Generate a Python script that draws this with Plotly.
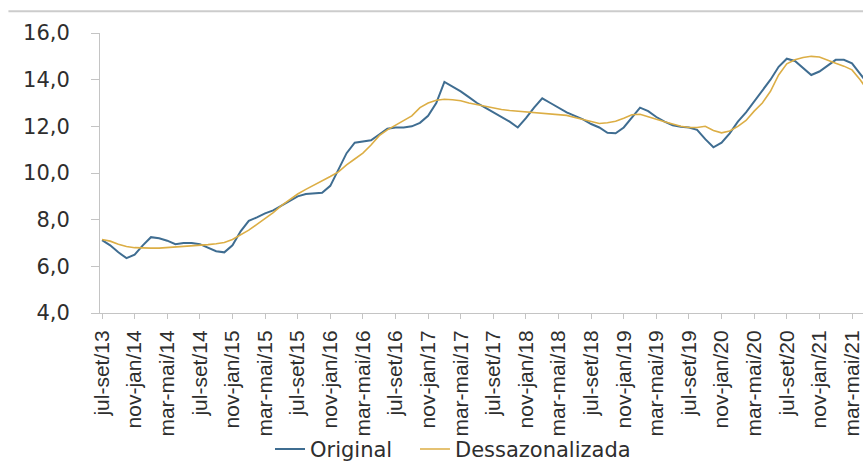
import plotly.graph_objects as go

# Rolling-quarter periods (trimestre móvel), jul-set/13 to mai-jul/21
periods = [
    "jul-set/13", "ago-out/13", "set-nov/13", "out-dez/13",
    "nov-jan/14", "dez-fev/14", "jan-mar/14", "fev-abr/14", "mar-mai/14", "abr-jun/14",
    "mai-jul/14", "jun-ago/14", "jul-set/14", "ago-out/14", "set-nov/14", "out-dez/14",
    "nov-jan/15", "dez-fev/15", "jan-mar/15", "fev-abr/15", "mar-mai/15", "abr-jun/15",
    "mai-jul/15", "jun-ago/15", "jul-set/15", "ago-out/15", "set-nov/15", "out-dez/15",
    "nov-jan/16", "dez-fev/16", "jan-mar/16", "fev-abr/16", "mar-mai/16", "abr-jun/16",
    "mai-jul/16", "jun-ago/16", "jul-set/16", "ago-out/16", "set-nov/16", "out-dez/16",
    "nov-jan/17", "dez-fev/17", "jan-mar/17", "fev-abr/17", "mar-mai/17", "abr-jun/17",
    "mai-jul/17", "jun-ago/17", "jul-set/17", "ago-out/17", "set-nov/17", "out-dez/17",
    "nov-jan/18", "dez-fev/18", "jan-mar/18", "fev-abr/18", "mar-mai/18", "abr-jun/18",
    "mai-jul/18", "jun-ago/18", "jul-set/18", "ago-out/18", "set-nov/18", "out-dez/18",
    "nov-jan/19", "dez-fev/19", "jan-mar/19", "fev-abr/19", "mar-mai/19", "abr-jun/19",
    "mai-jul/19", "jun-ago/19", "jul-set/19", "ago-out/19", "set-nov/19", "out-dez/19",
    "nov-jan/20", "dez-fev/20", "jan-mar/20", "fev-abr/20", "mar-mai/20", "abr-jun/20",
    "mai-jul/20", "jun-ago/20", "jul-set/20", "ago-out/20", "set-nov/20", "out-dez/20",
    "nov-jan/21", "dez-fev/21", "jan-mar/21", "fev-abr/21", "mar-mai/21", "abr-jun/21",
    "mai-jul/21",
]

# Unemployment rate (%), original series
original = [
    7.12, 6.90, 6.60, 6.35,
    6.50, 6.90, 7.25, 7.20, 7.10, 6.95, 7.00, 7.00, 6.95, 6.80, 6.65, 6.60,
    6.90, 7.50, 7.95, 8.10, 8.27, 8.40, 8.60, 8.82, 9.00, 9.10, 9.13, 9.15,
    9.45, 10.15, 10.85, 11.30, 11.35, 11.40, 11.65, 11.90, 11.95, 11.95, 12.00, 12.15,
    12.45, 13.00, 13.90, 13.70, 13.50, 13.25, 13.00, 12.80, 12.60, 12.40, 12.20, 11.95,
    12.35, 12.80, 13.20, 13.00, 12.80, 12.60, 12.45, 12.30, 12.10, 11.95, 11.72, 11.70,
    11.95, 12.40, 12.80, 12.65, 12.40, 12.20, 12.05, 11.98, 11.95, 11.85, 11.45, 11.10,
    11.30, 11.70, 12.20, 12.60, 13.05, 13.50, 14.00, 14.55, 14.90, 14.80, 14.50, 14.20,
    14.35, 14.60, 14.85, 14.85, 14.70, 14.25, 13.80,
]

# Unemployment rate (%), seasonally adjusted series
dessazonalizada = [
    7.15, 7.08, 6.95, 6.85,
    6.80, 6.78, 6.78, 6.78, 6.80, 6.82, 6.85, 6.88, 6.90, 6.93, 6.97, 7.02,
    7.15, 7.35, 7.55, 7.80, 8.05, 8.30, 8.60, 8.85, 9.10, 9.30, 9.48, 9.65,
    9.85, 10.05, 10.35, 10.60, 10.85, 11.20, 11.60, 11.85, 12.05, 12.25, 12.45, 12.80,
    13.00, 13.12, 13.16, 13.14, 13.10, 13.00, 12.93, 12.85, 12.77, 12.72, 12.68, 12.65,
    12.62, 12.60, 12.58, 12.55, 12.52, 12.47, 12.38, 12.30, 12.20, 12.12, 12.15, 12.22,
    12.35, 12.50, 12.52, 12.40, 12.30, 12.20, 12.10, 12.00, 11.95, 11.95, 12.00, 11.82,
    11.72, 11.80, 12.00, 12.25, 12.65, 13.00, 13.50, 14.20, 14.68, 14.85, 14.95, 15.00,
    14.97, 14.82, 14.70, 14.58, 14.42, 14.00, 13.50,
]

# Labelled periods on the category axis (every fourth quarter)
tick_labels = [
    "jul-set/13", "nov-jan/14", "mar-mai/14", "jul-set/14", "nov-jan/15", "mar-mai/15",
    "jul-set/15", "nov-jan/16", "mar-mai/16", "jul-set/16", "nov-jan/17", "mar-mai/17",
    "jul-set/17", "nov-jan/18", "mar-mai/18", "jul-set/18", "nov-jan/19", "mar-mai/19",
    "jul-set/19", "nov-jan/20", "mar-mai/20", "jul-set/20", "nov-jan/21", "mar-mai/21",
]

y_tick_values = [4, 6, 8, 10, 12, 14, 16]
y_tick_labels = ["4,0", "6,0", "8,0", "10,0", "12,0", "14,0", "16,0"]

AXIS_GREY = "#c4c4c4"
TEXT_GREY = "#2e2e2e"
LEGEND_FONT = dict(family="DejaVu Sans", size=21, color=TEXT_GREY)

fig = go.Figure()
fig.add_trace(go.Scatter(
    x=periods, y=original, mode="lines", name="Original",
    line=dict(color="#3f6d91", width=2), legend="legend",
))
fig.add_trace(go.Scatter(
    x=periods, y=dessazonalizada, mode="lines", name="Dessazonalizada",
    line=dict(color="#dcae45", width=1.6), legend="legend2",
))

fig.update_layout(
    template="none",
    width=863, height=468,
    margin=dict(l=100, r=0, t=33, b=155, pad=0, autoexpand=False),
    paper_bgcolor="white", plot_bgcolor="white",
    showlegend=True,
    legend=dict(
        orientation="h", x=0.2228, xanchor="left", y=-0.487, yanchor="middle",
        font=LEGEND_FONT, bgcolor="rgba(0,0,0,0)", itemwidth=30,
    ),
    legend2=dict(
        orientation="h", x=0.4128, xanchor="left", y=-0.487, yanchor="middle",
        font=LEGEND_FONT, bgcolor="rgba(0,0,0,0)", itemwidth=30,
    ),
    xaxis=dict(
        type="category", categoryorder="array", categoryarray=periods,
        range=[-0.25, 93.35],
        tickmode="array", tickvals=tick_labels, ticktext=tick_labels,
        tickangle=-90, ticks="outside", ticklen=5, tickcolor=AXIS_GREY,
        showline=True, linecolor=AXIS_GREY, linewidth=1,
        showgrid=False, zeroline=False, automargin=False,
        ticklabelstandoff=3,
        tickfont=dict(family="Liberation Sans", size=21, color=TEXT_GREY),
    ),
    yaxis=dict(
        range=[4, 16],
        tickmode="array", tickvals=y_tick_values, ticktext=y_tick_labels,
        ticks="outside", ticklen=8, tickcolor=AXIS_GREY,
        showline=True, linecolor=AXIS_GREY, linewidth=1,
        showgrid=False, zeroline=False, automargin=False,
        ticklabelstandoff=17,
        tickfont=dict(family="DejaVu Sans", size=21, color=TEXT_GREY),
    ),
    shapes=[dict(
        type="line", xref="paper", yref="paper",
        x0=-0.12, x1=1.0, y0=1.078, y1=1.078,
        line=dict(color="#cccccc", width=2),
    )],
)

fig.write_html("out.html")
